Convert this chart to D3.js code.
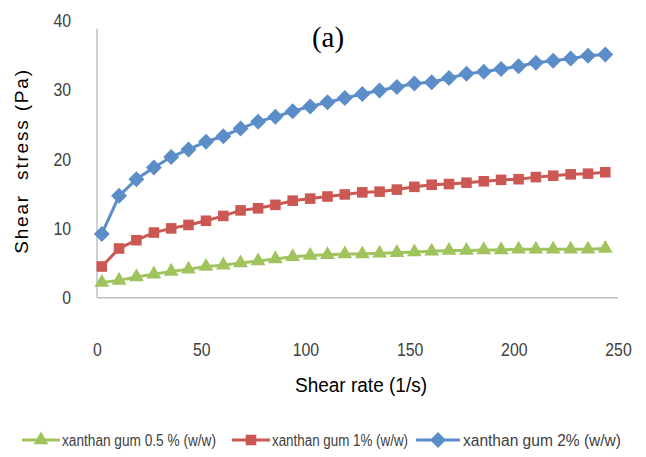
<!DOCTYPE html>
<html>
<head>
<meta charset="utf-8">
<script src="https://cdn.jsdelivr.net/npm/d3@7"></script>
<style>
  html, body { margin: 0; padding: 0; background: #fff; }
  svg text { font-family: "Liberation Sans", Arial, sans-serif; }
</style>
</head>
<body>
<div id="chart"></div>
<script>
// shear rate (1/s)
var shearRate = [2.3, 10.6, 18.9, 27.3, 35.6, 43.9, 52.3, 60.6, 68.9, 77.3,
  85.6, 93.9, 102.3, 110.6, 118.9, 127.3, 135.6, 143.9, 152.3, 160.6,
  168.9, 177.3, 185.6, 193.9, 202.3, 210.6, 218.9, 227.3, 235.6, 243.9];

// shear stress (Pa) per xanthan gum concentration
var gum05 = [2.2, 2.5, 3.0, 3.4, 3.8, 4.1, 4.5, 4.7, 5.0, 5.3,
  5.6, 5.9, 6.1, 6.2, 6.3, 6.3, 6.4, 6.5, 6.6, 6.7,
  6.8, 6.8, 6.9, 6.9, 7.0, 7.0, 7.0, 7.0, 7.0, 7.1];
var gum1 = [4.5, 7.1, 8.3, 9.4, 10.0, 10.5, 11.1, 11.8, 12.6, 12.9,
  13.4, 14.0, 14.3, 14.6, 14.9, 15.2, 15.3, 15.6, 16.0, 16.3,
  16.4, 16.6, 16.8, 17.0, 17.1, 17.4, 17.6, 17.8, 17.9, 18.1];
var gum2 = [9.2, 14.7, 17.1, 18.8, 20.3, 21.4, 22.5, 23.3, 24.4, 25.4,
  26.1, 26.9, 27.6, 28.2, 28.8, 29.4, 29.9, 30.4, 30.9, 31.1,
  31.7, 32.3, 32.6, 33.0, 33.4, 33.9, 34.2, 34.5, 34.9, 35.1];

var seriesNames = ["xanthan gum 0.5 % (w/w)", "xanthan gum 1% (w/w)", "xanthan gum 2% (w/w)"];
var xTicks = [0, 50, 100, 150, 200, 250];
var yTicks = [0, 10, 20, 30, 40];

var W = 646, H = 457;
var svg = d3.select("#chart").append("svg")
  .attr("width", W).attr("height", H);

var x = d3.scaleLinear().domain([0, 250]).range([97, 618]);
var y = d3.scaleLinear().domain([0, 40]).range([297.7, 20.5]);

var series = [
  { name: seriesNames[0], values: gum05, color: "#a1c35e", shape: "triangle" },
  { name: seriesNames[1], values: gum1, color: "#cc5853", shape: "square" },
  { name: seriesNames[2], values: gum2, color: "#5b8dc9", shape: "diamond" }
];

// marker shapes
function marker(shape) {
  if (shape == "triangle") return d3.symbol().type(d3.symbolTriangle).size(95)();
  if (shape == "square") return d3.symbol().type(d3.symbolSquare).size(112)();
  return d3.symbol().type(d3.symbolSquare).size(128)();
}
function markerRot(shape) { return shape == "diamond" ? " rotate(45)" : ""; }

// narrow look: squeeze text to a set width
function squeeze(sel, perChar) {
  sel.each(function () {
    var t = d3.select(this);
    t.attr("textLength", t.text().length * perChar).attr("lengthAdjust", "spacingAndGlyphs");
  });
}

// axes lines
var yAxis = d3.axisLeft(y).tickValues(yTicks).tickSize(0).tickPadding(26);
var yAxisG = svg.append("g").attr("transform", "translate(" + x(0) + ",0)").call(yAxis);
yAxisG.select(".domain").attr("stroke", "#bfbfbf").attr("stroke-width", 1.5)
  .attr("d", "M0," + y(38.8) + "V" + y(0));
yAxisG.selectAll("text").attr("font-size", 19).attr("fill", "#404040").attr("font-family", null)
  .call(squeeze, 8.8);

var xAxis = d3.axisBottom(x).tickValues(xTicks).tickSize(0).tickPadding(45);
var xAxisG = svg.append("g").attr("transform", "translate(0," + y(0) + ")").call(xAxis);
xAxisG.select(".domain").attr("stroke", "#bfbfbf").attr("stroke-width", 1.5)
  .attr("d", "M" + x(0) + ",0H" + x(250));
xAxisG.selectAll("text").attr("font-size", 19).attr("fill", "#404040").attr("font-family", null)
  .call(squeeze, 8.8);

// lines + markers
var line = d3.line()
  .x(function (d, i) { return x(shearRate[i]); })
  .y(function (d) { return y(d); });

series.forEach(function (s) {
  svg.append("path").datum(s.values)
    .attr("d", line)
    .attr("fill", "none")
    .attr("stroke", s.color)
    .attr("stroke-width", 3);
  svg.selectAll(null).data(s.values).enter().append("path")
    .attr("d", marker(s.shape))
    .attr("transform", function (d, i) {
      return "translate(" + x(shearRate[i]) + "," + y(d) + ")" + markerRot(s.shape);
    })
    .attr("fill", s.color);
});

// panel label
svg.append("text")
  .attr("x", 328).attr("y", 47)
  .attr("text-anchor", "middle")
  .style("font-family", "'Liberation Serif', 'Times New Roman', serif")
  .attr("font-size", 29)
  .text("(a)");

// axis titles
svg.append("text")
  .attr("transform", "translate(28,161) rotate(-90)")
  .attr("text-anchor", "middle")
  .style("letter-spacing", "1.8px")
  .attr("font-size", 19)
  .text("Shear\u00a0\u00a0stress (Pa)");

svg.append("text")
  .attr("x", 361).attr("y", 392)
  .attr("text-anchor", "middle")
  .attr("font-size", 20)
  .attr("textLength", 132).attr("lengthAdjust", "spacingAndGlyphs")
  .text("Shear rate (1/s)");

// legend
var legendX = [22, 232, 416];
var legendW = [154, 136, 158];
var lg = svg.selectAll(".legend").data(series).enter().append("g")
  .attr("class", "legend")
  .attr("transform", function (d, i) { return "translate(" + legendX[i] + ",440)"; });
lg.append("line")
  .attr("x1", 0).attr("x2", function (d, i) { return i == 2 ? 44 : 38; })
  .attr("stroke", function (d) { return d.color; })
  .attr("stroke-width", 3);
lg.append("path")
  .attr("d", function (d) { return marker(d.shape); })
  .attr("transform", function (d, i) {
    return "translate(" + (i == 2 ? 22 : 19) + ",0)" + markerRot(d.shape);
  })
  .attr("fill", function (d) { return d.color; });
lg.append("text")
  .attr("x", function (d, i) { return i == 2 ? 47 : 40; })
  .attr("y", 5.5)
  .attr("font-size", 16)
  .attr("fill", "#404040")
  .attr("textLength", function (d, i) { return legendW[i]; })
  .attr("lengthAdjust", "spacingAndGlyphs")
  .text(function (d) { return d.name; });
</script>
</body>
</html>
